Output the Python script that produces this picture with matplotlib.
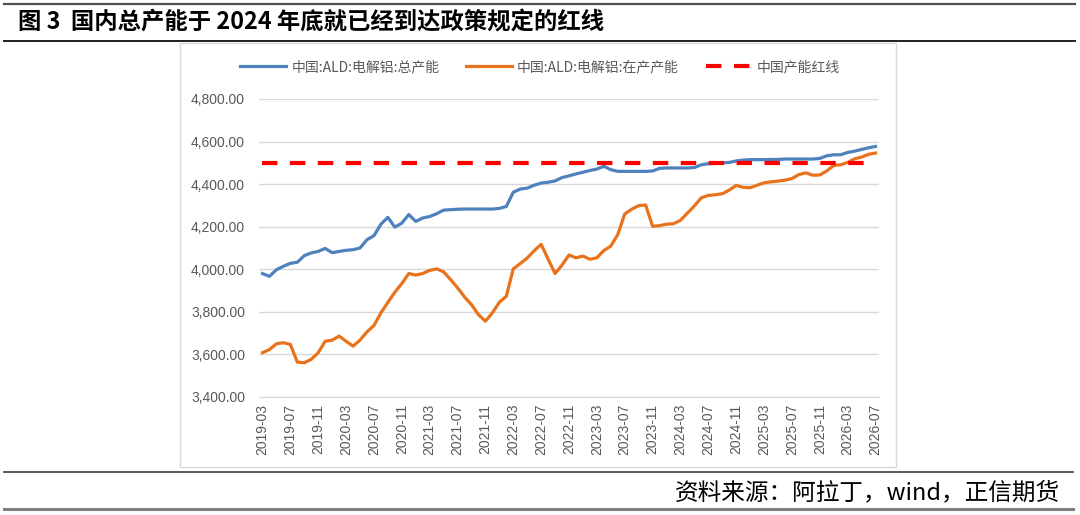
import matplotlib.pyplot as plt
import matplotlib.lines as mlines
import pandas as pd

plt.rcParams['font.family'] = ['Noto Sans CJK SC', 'DejaVu Sans']

months = [p.strftime('%Y-%m') for p in pd.period_range('2019-03', '2026-07', freq='M')]

total_capacity = [
    3980, 3967, 3998, 4014, 4028, 4033, 4064, 4077, 4084, 4098,
    4078, 4084, 4089, 4092, 4100, 4139, 4158, 4212, 4244, 4198,
    4217, 4257, 4225, 4241, 4248, 4261, 4278, 4280, 4282, 4283,
    4283, 4283, 4283, 4283, 4286, 4295, 4362, 4377, 4381, 4395,
    4405, 4409, 4415, 4431, 4439, 4448, 4456, 4464, 4471, 4484,
    4468, 4460, 4460, 4460, 4460, 4460, 4462, 4474, 4476, 4476,
    4476, 4476, 4478, 4491, 4496, 4497, 4500, 4502, 4509, 4513,
    4515, 4515, 4515, 4516, 4516, 4518, 4518, 4518, 4518, 4518,
    4521, 4533, 4538, 4538, 4549, 4555, 4563, 4571, 4577,
]

running_capacity = [
    3608, 3623, 3650, 3655, 3647, 3564, 3561, 3577, 3608, 3662,
    3667, 3686, 3662, 3639, 3667, 3706, 3736, 3795, 3845, 3892,
    3933, 3980, 3973, 3980, 3995, 4002, 3988, 3952, 3913, 3870,
    3834, 3787, 3756, 3795, 3845, 3873, 4002, 4027, 4053, 4087,
    4117, 4048, 3980, 4020, 4067, 4054, 4062, 4047, 4054, 4088,
    4109, 4163, 4260, 4282, 4299, 4302, 4202, 4205, 4212, 4214,
    4230, 4264, 4298, 4336, 4347, 4350, 4355, 4372, 4394, 4385,
    4383, 4395, 4406, 4411, 4414, 4419, 4426, 4445, 4453, 4442,
    4443, 4462, 4488, 4491, 4502, 4519, 4527, 4540, 4546,
]

red_line = [4500] * len(months)

series_names = ['中国:ALD:电解铝:总产能', '中国:ALD:电解铝:在产产能', '中国产能红线']

W, H = 1080, 515
fig = plt.figure(figsize=(W / 100, H / 100), dpi=100)

def fx(px):
    return px / W

def fy(py):
    return 1 - py / H

# page decorations
fig.add_artist(mlines.Line2D([fx(4), fx(1075)], [fy(4), fy(4)], color='#505050', lw=1.6))
fig.add_artist(mlines.Line2D([fx(4), fx(1075)], [fy(41), fy(41)], color='#202020', lw=1.4))
fig.add_artist(mlines.Line2D([fx(4), fx(1073)], [fy(472), fy(472)], color='#404040', lw=1.2))
fig.add_artist(mlines.Line2D([fx(4), fx(1073)], [fy(509), fy(509)], color='#808080', lw=2.2))
fig.text(fx(18), fy(23), '图 3  国内总产能于 2024 年底就已经到达政策规定的红线',
         fontsize=16.8, fontweight='bold', color='black', va='center', ha='left')
fig.text(fx(1060), fy(493), '资料来源：阿拉丁，wind，正信期货',
         fontsize=17, color='black', va='center', ha='right')

# chart frame
fig.add_artist(plt.Rectangle((fx(180), fy(467)), fx(896) - fx(180), fy(43) - fy(467),
                             fill=False, edgecolor='#d9d9d9', lw=1))

ax = fig.add_axes([fx(259), fy(397), fx(879) - fx(259), fy(99) - fy(397)])
x = list(range(len(months)))
ax.plot(x, total_capacity, color='#4F81BD', lw=2.3, label=series_names[0])
ax.plot(x, running_capacity, color='#E8731C', lw=2.3, label=series_names[1])
ax.plot(x, red_line, color='#FF0000', lw=3, dashes=(3.7, 3.0), label=series_names[2])

ax.set_xlim(-0.5, len(months) - 0.5)
ax.set_ylim(3400, 4800)
ax.set_yticks(range(3400, 4801, 200))
ax.set_yticklabels([f'{v:,.2f}' for v in range(3400, 4801, 200)],
                   fontsize=10, color='#595959', family='Liberation Sans')
ax.set_xticks(x[::4])
ax.set_xticklabels(months[::4], rotation=90, fontsize=10, color='#595959',
                   family='Liberation Sans')
ax.tick_params(axis='x', length=0, pad=5)
ax.tick_params(axis='y', length=0, pad=10)
ax.grid(axis='y', color='#d9d9d9', lw=1)
ax.set_axisbelow(True)
for s in ['top', 'right', 'left']:
    ax.spines[s].set_visible(False)
ax.spines['bottom'].set_color('#d9d9d9')

fig.legend(loc='center', bbox_to_anchor=(fx(540), fy(67)), ncol=3, frameon=False,
           fontsize=10, handlelength=3.3, handletextpad=0.4, columnspacing=1.9,
           labelcolor='#595959')

fig.savefig('out.png', dpi=100)
